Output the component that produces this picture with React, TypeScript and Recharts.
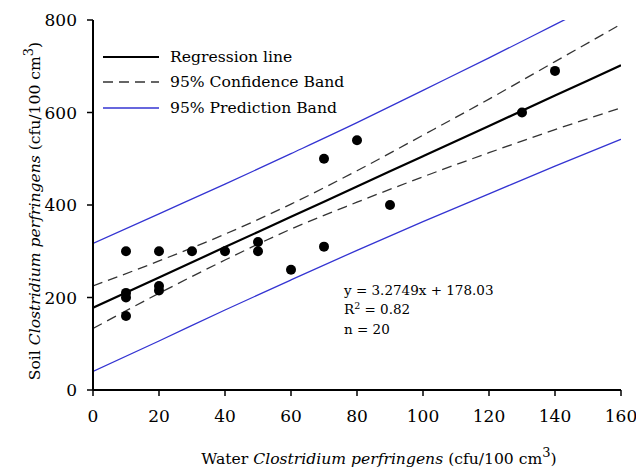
import { ComposedChart, Legend, Line, Scatter, XAxis, YAxis } from "recharts";

// Only DejaVu Serif renders as a real serif face here; sizes are scaled to Times widths
const FONT = "DejaVu Serif, serif";

const BAND_X = [0, 20, 40, 60, 80, 100, 120, 140, 160];
const REGRESSION = [178, 243.5, 309, 374.5, 440, 505.5, 571, 636.5, 702];
const CONF_UPPER = [225, 279, 337, 402, 474, 551, 629, 710, 791];
const CONF_LOWER = [133, 209, 281, 348, 406, 461, 513, 563, 610];
const PRED_UPPER = [317, 381, 445, 511, 578, 648, 718, 790, 862];
const PRED_LOWER = [40, 106, 173, 238, 302, 364, 424, 484, 542];

// observations
const WATER = [10, 10, 10, 10, 20, 20, 20, 30, 40, 50, 50, 60, 70, 70, 80, 90, 130, 140];
const SOIL = [300, 210, 200, 160, 300, 225, 215, 300, 300, 320, 300, 260, 500, 310, 540, 400, 600, 690];

const X_TICKS = [0, 20, 40, 60, 80, 100, 120, 140, 160];
const Y_TICKS = [0, 200, 400, 600, 800];

const LEGEND_ORDER = ["Regression line", "95% Confidence Band", "95% Prediction Band"];

const bands = BAND_X.map((x, i) => ({
  x,
  fit: REGRESSION[i],
  confUpper: CONF_UPPER[i],
  confLower: CONF_LOWER[i],
  predUpper: PRED_UPPER[i],
  predLower: PRED_LOWER[i],
}));

const points = WATER.map((x, i) => ({ x, y: SOIL[i] }));

const COLORS = {
  fit: "#000000",
  conf: "#333333",
  pred: "#3434d2",
};

const axisLine = { stroke: "#000", strokeWidth: 2 };
const tickLine = { stroke: "#000", strokeWidth: 1.5 };
const tickStyle = { fill: "#000", fontSize: 17, fontFamily: FONT };

function XTitle(props: any) {
  const { x, y, width } = props.viewBox;
  return (
    <text x={x + width / 2 + 22} y={y + 74} textAnchor="middle" fontSize={15.6} fontFamily={FONT} fill="#000">
      Water <tspan fontStyle="italic">Clostridium perfringens</tspan> (cfu/100 cm
      <tspan dy={-7} fontSize={13}>3</tspan>
      <tspan dy={7}>)</tspan>
    </text>
  );
}

function YTitle(props: any) {
  const { x, y, height } = props.viewBox;
  const cx = x + 40;
  const cy = y + height / 2 + 6;
  return (
    <text
      x={cx}
      y={cy}
      transform={`rotate(-90, ${cx}, ${cy})`}
      textAnchor="middle"
      fontSize={15.6}
      fontFamily={FONT}
      fill="#000"
    >
      Soil <tspan fontStyle="italic">Clostridium perfringens</tspan> (cfu/100 cm
      <tspan dy={-7} fontSize={13}>3</tspan>
      <tspan dy={7}>)</tspan>
    </text>
  );
}

function LegendBox({ payload }: any) {
  const items = (payload || [])
    .filter((e: any) => LEGEND_ORDER.includes(e.value))
    .sort((a: any, b: any) => LEGEND_ORDER.indexOf(a.value) - LEGEND_ORDER.indexOf(b.value));
  return (
    <div style={{ fontFamily: FONT, fontSize: 15.6, color: "#000" }}>
      {items.map((e: any) => (
        <div key={e.value} style={{ display: "flex", alignItems: "center", height: 25.5 }}>
          <svg width={56} height={4} style={{ marginRight: 11 }}>
            <line
              x1={0}
              y1={2}
              x2={56}
              y2={2}
              stroke={e.color}
              strokeWidth={e.payload?.strokeWidth ?? 1.5}
              strokeDasharray={e.payload?.strokeDasharray}
            />
          </svg>
          <span>{e.value}</span>
        </div>
      ))}
    </div>
  );
}

function Dot(props: any) {
  return <circle cx={props.cx} cy={props.cy} r={5} fill="#000" />;
}

export default function App() {
  return (
    <div style={{ position: "absolute", left: 0, top: 0, width: 636, height: 469, background: "#fff" }}>
      <ComposedChart width={636} height={469} data={bands} margin={{ top: 20, right: 15, bottom: 0, left: 0 }}>
        <XAxis
          dataKey="x"
          type="number"
          domain={[0, 160]}
          ticks={X_TICKS}
          allowDataOverflow
          height={79}
          axisLine={axisLine}
          tickLine={tickLine}
          tickSize={6}
          tickMargin={14}
          tick={tickStyle}
          label={<XTitle />}
        />
        <XAxis
          xAxisId="top"
          orientation="top"
          type="number"
          domain={[0, 160]}
          ticks={X_TICKS}
          allowDataOverflow
          height={0}
          axisLine={axisLine}
          tickLine={tickLine}
          tickSize={6}
          tick={false}
        />
        <YAxis
          type="number"
          domain={[0, 800]}
          ticks={Y_TICKS}
          allowDataOverflow
          width={93}
          axisLine={axisLine}
          tickLine={tickLine}
          tickSize={6}
          tickMargin={10}
          tick={tickStyle}
          label={<YTitle />}
        />
        <YAxis
          yAxisId="right"
          orientation="right"
          type="number"
          domain={[0, 800]}
          ticks={Y_TICKS}
          allowDataOverflow
          width={0}
          axisLine={axisLine}
          tickLine={tickLine}
          tickSize={6}
          tick={false}
        />
        <Legend
          layout="vertical"
          align="center"
          verticalAlign="middle"
          content={<LegendBox />}
          wrapperStyle={{ position: "absolute", left: 103, top: 44, width: "auto", height: "auto" }}
        />
        <Line
          type="monotone"
          dataKey="fit"
          name="Regression line"
          stroke={COLORS.fit}
          strokeWidth={2.2}
          dot={false}
          isAnimationActive={false}
        />
        <Line
          type="monotone"
          dataKey="confUpper"
          name="95% Confidence Band"
          stroke={COLORS.conf}
          strokeWidth={1.3}
          strokeDasharray="10 6"
          dot={false}
          isAnimationActive={false}
        />
        <Line
          type="monotone"
          dataKey="confLower"
          name="confLower"
          legendType="none"
          stroke={COLORS.conf}
          strokeWidth={1.3}
          strokeDasharray="10 6"
          dot={false}
          isAnimationActive={false}
        />
        <Line
          type="monotone"
          dataKey="predUpper"
          name="95% Prediction Band"
          stroke={COLORS.pred}
          strokeWidth={1.3}
          dot={false}
          isAnimationActive={false}
        />
        <Line
          type="monotone"
          dataKey="predLower"
          name="predLower"
          legendType="none"
          stroke={COLORS.pred}
          strokeWidth={1.3}
          dot={false}
          isAnimationActive={false}
        />
        <Scatter
          data={points}
          dataKey="y"
          name="Observed"
          legendType="none"
          fill="#000"
          shape={<Dot />}
          isAnimationActive={false}
        />
      </ComposedChart>
      <div
        style={{
          position: "absolute",
          left: 344,
          top: 281,
          fontFamily: FONT,
          fontSize: 13.5,
          lineHeight: "18.5px",
          color: "#000",
          whiteSpace: "nowrap",
        }}
      >
        <div>y = 3.2749x + 178.03</div>
        <div>
          R<span style={{ position: "relative", top: -5, fontSize: 9.5 }}>2</span> = 0.82
        </div>
        <div>n = 20</div>
      </div>
    </div>
  );
}
